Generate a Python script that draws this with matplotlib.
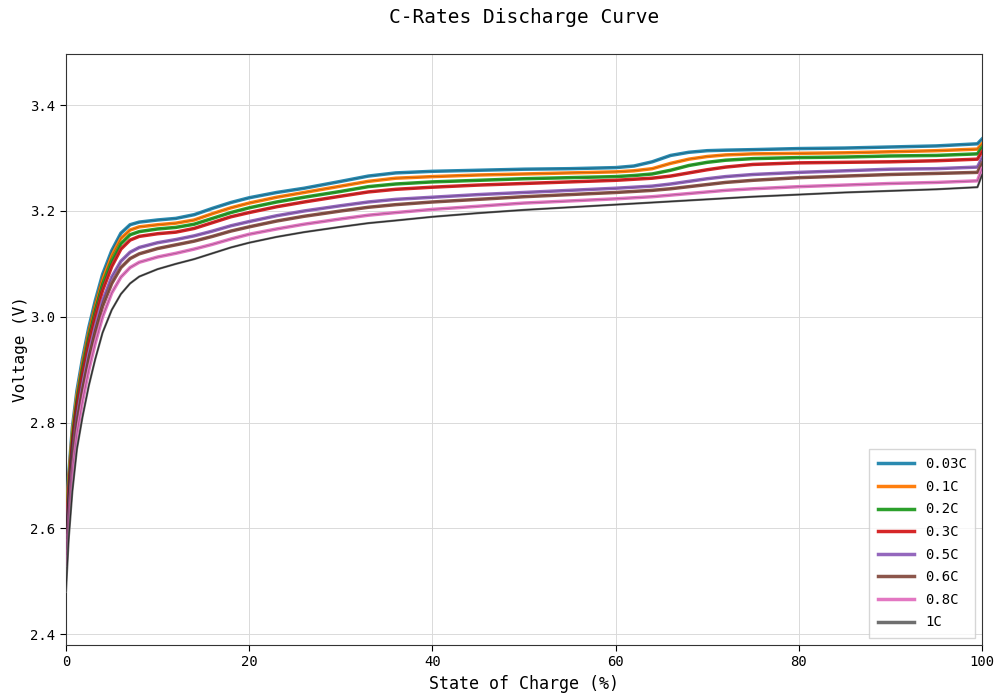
import matplotlib
matplotlib.use("Agg")
import matplotlib.pyplot as plt

plt.rcParams['font.family'] = ['DejaVu Sans Mono', 'DejaVu Sans']

# state of charge grid shared by every curve (%)
soc = [0, 0.3, 0.7, 1.2, 1.8, 2.5, 3.2, 4, 5, 6, 7, 8, 10, 12, 14, 16, 18, 20,
       23, 26, 30, 33, 36, 40, 45, 50, 55, 60, 62, 64, 66, 68, 70, 72, 75, 80,
       85, 90, 95, 99.5, 100]

v_003c = [2.60, 2.70, 2.79, 2.86, 2.92, 2.98, 3.03, 3.08, 3.125, 3.158, 3.174, 3.179,
          3.183, 3.186, 3.193, 3.205, 3.216, 3.225, 3.235, 3.243, 3.256, 3.266, 3.272,
          3.275, 3.277, 3.279, 3.280, 3.282, 3.285, 3.293, 3.305, 3.311, 3.314, 3.315,
          3.316, 3.318, 3.319, 3.321, 3.323, 3.327, 3.336]
v_01c = [2.60, 2.69, 2.78, 2.85, 2.91, 2.97, 3.02, 3.07, 3.115, 3.148, 3.164, 3.170,
         3.174, 3.177, 3.183, 3.195, 3.206, 3.215, 3.226, 3.235, 3.247, 3.256, 3.262,
         3.265, 3.268, 3.270, 3.272, 3.274, 3.276, 3.280, 3.290, 3.298, 3.303, 3.306,
         3.308, 3.309, 3.310, 3.312, 3.314, 3.317, 3.327]
v_02c = [2.59, 2.68, 2.77, 2.84, 2.90, 2.96, 3.01, 3.06, 3.105, 3.138, 3.155, 3.161,
         3.166, 3.169, 3.175, 3.186, 3.197, 3.206, 3.217, 3.226, 3.237, 3.246, 3.251,
         3.255, 3.258, 3.261, 3.263, 3.265, 3.267, 3.270, 3.277, 3.286, 3.292, 3.296,
         3.299, 3.301, 3.302, 3.304, 3.305, 3.308, 3.320]
v_03c = [2.58, 2.67, 2.76, 2.83, 2.89, 2.95, 3.00, 3.05, 3.095, 3.128, 3.145, 3.152,
         3.157, 3.160, 3.167, 3.178, 3.189, 3.197, 3.208, 3.217, 3.228, 3.236, 3.241,
         3.245, 3.249, 3.252, 3.255, 3.258, 3.260, 3.262, 3.266, 3.272, 3.278, 3.283,
         3.288, 3.291, 3.292, 3.293, 3.295, 3.298, 3.312]
v_05c = [2.56, 2.65, 2.74, 2.81, 2.87, 2.93, 2.98, 3.03, 3.075, 3.105, 3.122, 3.131,
         3.140, 3.146, 3.153, 3.162, 3.172, 3.180, 3.191, 3.200, 3.210, 3.217, 3.222,
         3.226, 3.231, 3.235, 3.239, 3.243, 3.245, 3.247, 3.251, 3.256, 3.261, 3.265,
         3.269, 3.273, 3.276, 3.279, 3.280, 3.283, 3.300]
v_06c = [2.55, 2.64, 2.73, 2.80, 2.86, 2.92, 2.97, 3.02, 3.063, 3.093, 3.110, 3.119,
         3.129, 3.136, 3.143, 3.152, 3.162, 3.170, 3.181, 3.190, 3.200, 3.207, 3.212,
         3.217, 3.222, 3.227, 3.231, 3.235, 3.237, 3.239, 3.242, 3.246, 3.250, 3.254,
         3.258, 3.263, 3.266, 3.269, 3.271, 3.273, 3.290]
v_08c = [2.53, 2.62, 2.71, 2.78, 2.84, 2.90, 2.95, 3.00, 3.045, 3.075, 3.093, 3.103,
         3.113, 3.120, 3.128, 3.137, 3.147, 3.156, 3.166, 3.175, 3.185, 3.192, 3.197,
         3.203, 3.209, 3.215, 3.219, 3.223, 3.225, 3.227, 3.230, 3.233, 3.236, 3.239,
         3.242, 3.246, 3.249, 3.252, 3.254, 3.257, 3.280]
v_1c = [2.48, 2.58, 2.67, 2.75, 2.81, 2.87, 2.92, 2.97, 3.013, 3.043, 3.063, 3.076,
        3.090, 3.100, 3.109, 3.120, 3.131, 3.140, 3.151, 3.160, 3.170, 3.177, 3.182,
        3.189, 3.196, 3.202, 3.207, 3.212, 3.214, 3.216, 3.218, 3.220, 3.222, 3.224,
        3.227, 3.231, 3.235, 3.238, 3.241, 3.245, 3.268]

labels = ['0.03C', '0.1C', '0.2C', '0.3C', '0.5C', '0.6C', '0.8C', '1C']
curves = [v_003c, v_01c, v_02c, v_03c, v_05c, v_06c, v_08c, v_1c]
colors = ['#2a8ab0', '#ff7f0e', '#2ca02c', '#d62728', '#9467bd', '#8c564b', '#e377c2', '#6f6f6f']

fig = plt.figure(figsize=(9.99, 7.0), dpi=100)
ax = fig.add_axes([0.066, 0.079, 0.917, 0.844])

for lab, v, c in zip(labels, curves, colors):
    if lab == '1C':
        ax.plot(soc, v, color=c, lw=1.6, label=lab, zorder=3)
        ax.plot(soc, v, color='black', lw=0.8, alpha=0.6, zorder=4)
    else:
        ax.plot(soc, v, color=c, lw=2.5, label=lab, zorder=3)
        ax.plot(soc, v, color='black', lw=0.5, alpha=0.3, zorder=4)

ax.set_xlim(0, 100)
ax.set_ylim(2.38, 3.497)
ax.set_yticks([2.4, 2.6, 2.8, 3.0, 3.2, 3.4])
ax.grid(True, color='#dadada', lw=0.7)
ax.set_axisbelow(True)
ax.tick_params(labelsize=10, length=4)
for s in ax.spines.values():
    s.set_color('#333333')

ax.set_title('C-Rates Discharge Curve', fontsize=14, pad=22)
ax.set_xlabel('State of Charge (%)', fontsize=12, labelpad=4)
ax.set_ylabel('Voltage (V)', fontsize=11.5, labelpad=2)

leg = ax.legend(loc='lower right', fontsize=10, handlelength=2.6, labelspacing=0.62,
                fancybox=False, edgecolor='#cccccc', borderpad=0.6)
for h in leg.get_lines():
    h.set_linewidth(2.5)

fig.savefig('out.png', dpi=100)
